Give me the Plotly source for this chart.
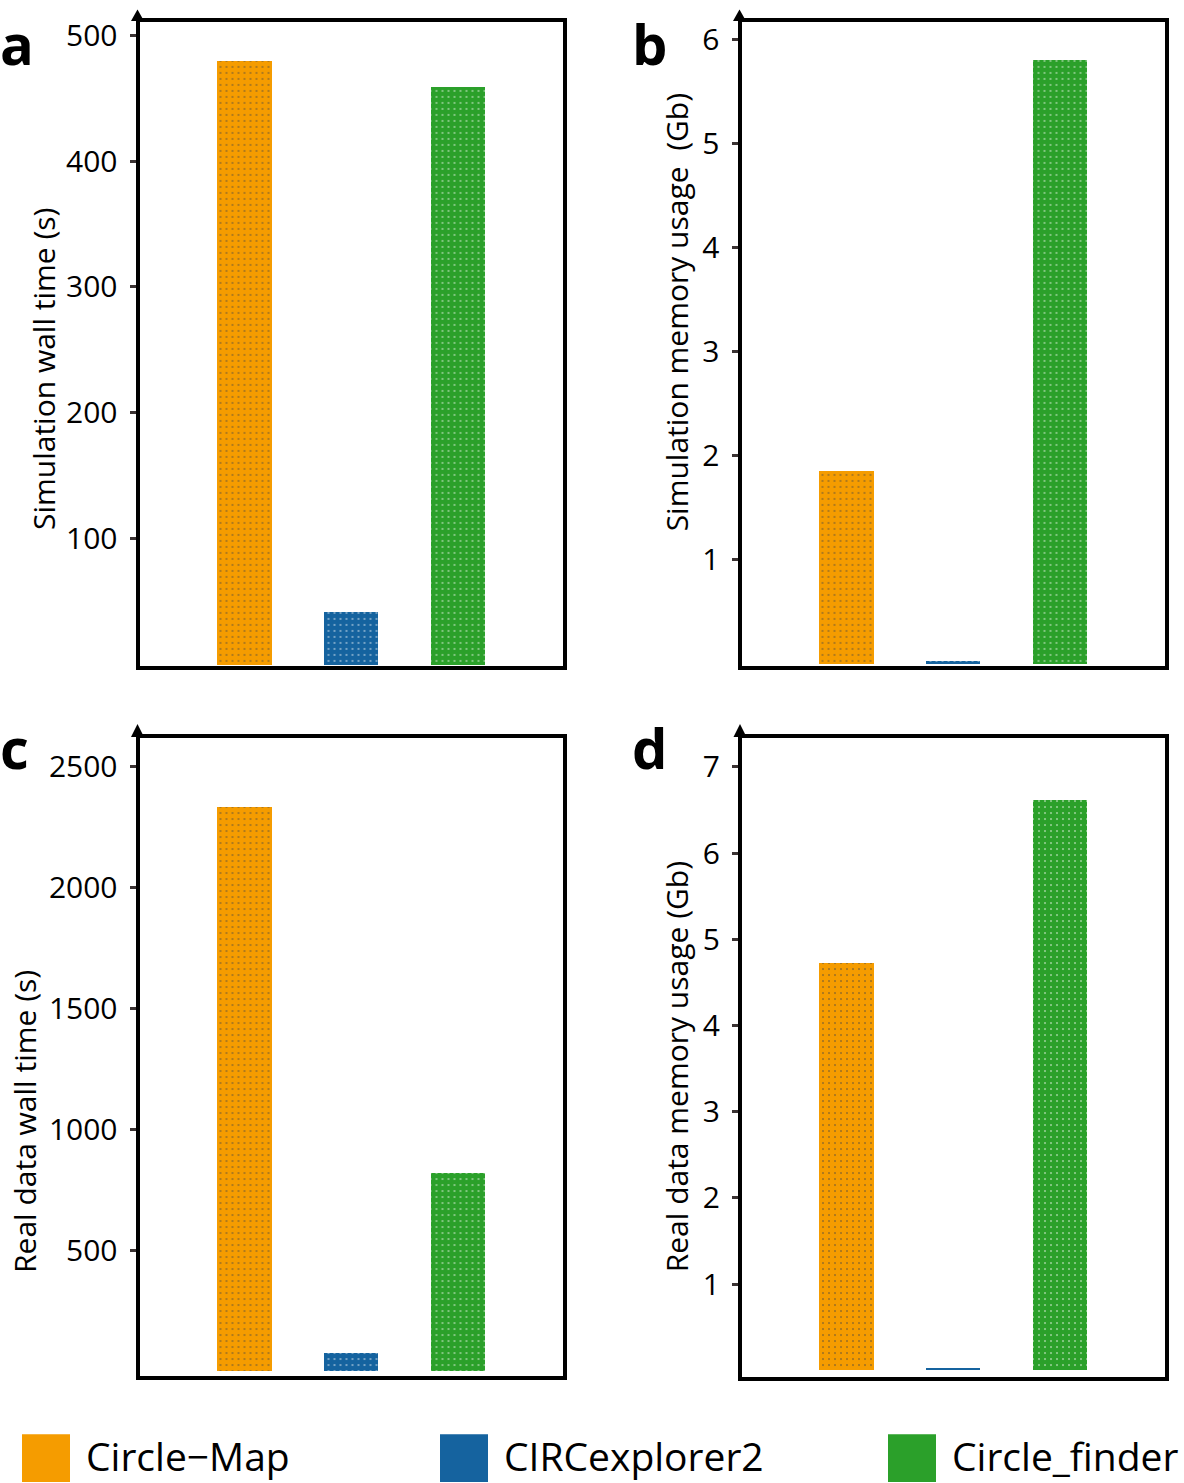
import plotly.graph_objects as go

# ---------------- data ----------------
categories = ["Circle\u2212Map", "CIRCexplorer2", "Circle_finder"]
colors = ["#F59C00", "#15639F", "#2BA02A"]
dot_colors = ["#4A6E98", "#8C8A7C", "#7E6C8E"]

sim_wall_time = [480, 42, 459]          # panel a (s)
sim_memory = [1.86, 0.03, 5.81]         # panel b (Gb)
real_wall_time = [2332, 76, 821]        # panel c (s)
real_memory = [4.73, 0.025, 6.62]       # panel d (Gb)

ticks_a = [100, 200, 300, 400, 500]
ticks_b = [1, 2, 3, 4, 5, 6]
ticks_c = [500, 1000, 1500, 2000, 2500]
ticks_d = [1, 2, 3, 4, 5, 6, 7]

titles = ["Simulation wall time (s)",
          "Simulation memory usage\u00a0 (Gb)",
          "Real data wall time (s)",
          "Real data memory usage (Gb)"]
panel_letters = ["a", "b", "c", "d"]

# ---------------- layout geometry (pixels) ----------------
W, H = 1184, 1483
LW = 4
FONT = "Open Sans"


def px(x):
    return x / W


def py(y):
    return 1 - y / H


panels = [
    dict(vals=sim_wall_time, ticks=ticks_a, xl=137.5, xr=565, yt=12, yb=664,
         zero=660.0, scale=1.265, title_xy=(43, 363), letter_xy=(-2, 35), tip=1.5),
    dict(vals=sim_memory, ticks=ticks_b, xl=739.5, xr=1166.5, yt=12, yb=664,
         zero=659.5, scale=104.6, title_xy=(676, 306), letter_xy=(630, 35), tip=1.5),
    dict(vals=real_wall_time, ticks=ticks_c, xl=137.5, xr=564.5, yt=732, yb=1377.5,
         zero=1370.7, scale=0.2434, title_xy=(25, 1120), letter_xy=(-2, 743), tip=720),
    dict(vals=real_memory, ticks=ticks_d, xl=740, xr=1167, yt=732, yb=1378,
         zero=1369.7, scale=86.67, title_xy=(676, 1065), letter_xy=(630, 743), tip=720),
]

fig = go.Figure()
shapes = []
annotations = []

for i, p in enumerate(panels):
    n = "" if i == 0 else str(i + 1)
    xa, ya = "xaxis" + n, "yaxis" + n
    dl, dr = p["xl"] + LW / 2, p["xr"] - LW / 2
    dt, db = p["yt"] + LW / 2, p["yb"] - LW / 2
    # bar centres sit 106.75 px apart, first centre 104.5 px from the left edge
    step = 106.75
    x_lo = -(104.5) / step
    x_hi = 2 + (dr - dl - 104.5 - 2 * step) / step
    y_lo = -(db - p["zero"]) / p["scale"]
    y_hi = (p["zero"] - dt) / p["scale"]

    fig.add_trace(go.Bar(
        x=categories, y=p["vals"], width=0.506,
        marker=dict(color=colors, line=dict(width=0),
                    pattern=dict(shape=".", fgcolor=dot_colors, size=6,
                                 solidity=0.1, fillmode="overlay")),
        xaxis="x" + n, yaxis="y" + n, showlegend=False,
    ))
    fig.layout[xa] = dict(domain=[px(dl), px(dr)], range=[x_lo, x_hi], showticklabels=False,
                          ticks="", showgrid=False, zeroline=False, showline=True,
                          linecolor="black", linewidth=LW, mirror=True,
                          anchor="y" + n, fixedrange=True)
    fig.layout[ya] = dict(domain=[py(db), py(dt)], range=[y_lo, y_hi], tickvals=p["ticks"],
                          ticks="outside", ticklen=6, tickwidth=3, tickcolor="#3a3232",
                          showgrid=False, zeroline=False, showline=True,
                          linecolor="black", linewidth=LW, mirror=True,
                          tickfont=dict(family=FONT, size=30, color="black"),
                          ticklabelstandoff=6, anchor="x" + n, fixedrange=True)
    # arrow head on y axis
    cx = p["xl"]
    shapes.append(dict(type="path", xref="paper", yref="paper",
                       path=f"M {px(cx - 6.5)},{py(p['yt'] + 1)} L {px(cx + 6.5)},{py(p['yt'] + 1)} "
                            f"L {px(cx)},{py(p['tip'])} Z",
                       fillcolor="black", line=dict(width=0)))
    # y-axis title
    tx, ty = p["title_xy"]
    annotations.append(dict(text=titles[i], x=px(tx), y=py(ty), xref="paper", yref="paper",
                            textangle=-90, showarrow=False, xanchor="center", yanchor="middle",
                            font=dict(family=FONT, size=30, color="black")))
    # panel letter
    lx, ly = p["letter_xy"]
    annotations.append(dict(text="<b>" + panel_letters[i] + "</b>", x=px(lx), y=py(ly),
                            xref="paper", yref="paper", showarrow=False,
                            xanchor="left", yanchor="middle",
                            font=dict(family=FONT, size=56, color="black")))

# legend (drawn manually)
legend_x = [22, 440, 888]
for j, name in enumerate(categories):
    x0 = legend_x[j]
    shapes.append(dict(type="rect", xref="paper", yref="paper",
                       x0=px(x0), x1=px(x0 + 48), y0=py(1482), y1=py(1434),
                       fillcolor=colors[j], line=dict(width=0)))
    annotations.append(dict(text=name, x=px(x0 + 62), y=py(1455), xref="paper", yref="paper",
                            showarrow=False, xanchor="left", yanchor="middle",
                            font=dict(family=FONT, size=39, color="black")))

fig.update_layout(width=W, height=H, margin=dict(l=0, r=0, t=0, b=0),
                  paper_bgcolor="white", plot_bgcolor="white",
                  shapes=shapes, annotations=annotations, bargap=0,
                  font=dict(family=FONT))

post = (
    "document.documentElement.style.margin='0';"
    "document.documentElement.style.overflow='hidden';"
    "document.documentElement.style.height='1483px';"
    "document.body.style.margin='0';document.body.style.padding='0';"
    "document.body.style.overflow='hidden';document.body.style.height='1483px';"
    "var gd=document.getElementById('{plot_id}');"
    "var wrap=gd.parentElement;wrap.style.position='absolute';"
    "wrap.style.top='0px';wrap.style.left='0px';"
)
fig.write_html("out.html", config={"displayModeBar": False}, post_script=post)
